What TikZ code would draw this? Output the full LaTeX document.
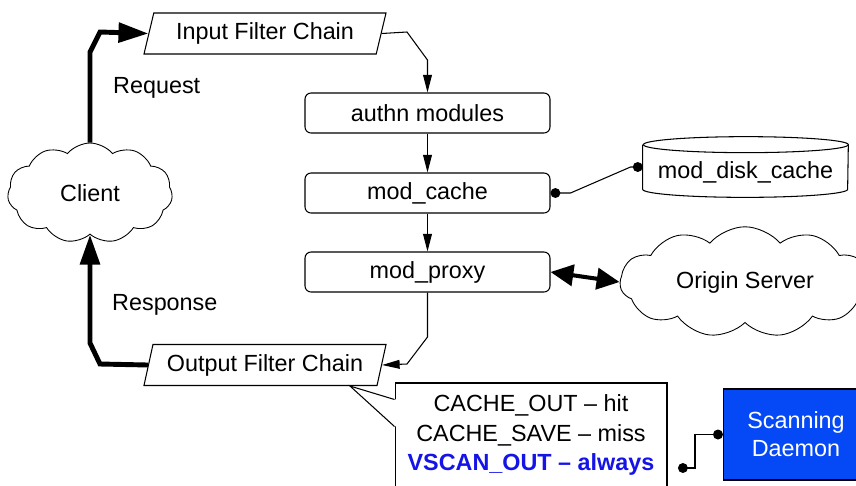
\documentclass[tikz,border=0pt]{standalone}
\usepackage{fontspec}
\setmainfont{Liberation Sans}
\usepackage{tikz}
\usetikzlibrary{shapes,shapes.geometric,shapes.symbols,arrows.meta,positioning}
\definecolor{scanblue}{RGB}{5,72,245}
\definecolor{vscanblue}{RGB}{20,20,232}

\tikzset{
  every node/.style={font=\fontsize{13.3}{16}\selectfont},
  modbox/.style={draw, line width=0.6pt, rounded corners=0.12cm, fill=white,
    minimum width=4.9cm, minimum height=0.8cm},
  chain/.style={draw, line width=0.6pt, fill=white, trapezium, trapezium left angle=76,
    trapezium right angle=104, trapezium stretches=true,
    minimum width=4.85cm, minimum height=0.82cm},
  puff/.style={draw, line width=0.5pt, fill=white, cloud, cloud puffs=11, cloud puff arc=100},
  flowarrow/.style={line width=0.6pt, -{Triangle[length=10pt,width=5pt]}},
  bigarrow/.style={line width=2.8pt, -{Triangle[length=17pt,width=11pt]}},
  dotline/.style={line width=0.6pt, {Circle[length=5.6pt]}-{Circle[length=5.6pt]}}
}

\begin{document}
\begin{tikzpicture}[x=0.02cm,y=-0.02cm]
\useasboundingbox (0,0) rectangle (856,485);

\node [chain] (ifc) at (265,33.5) {Input Filter Chain};
\node [chain] (ofc) at (265,365) {Output Filter Chain};
\node [modbox] (auth) at (427.5,113) {authn modules};
\node [modbox] (cache) at (427.5,193) {mod\_cache};
\node [modbox] (proxy) at (427.5,272) {mod\_proxy};
\node [puff, aspect=1.7, minimum width=3.3cm, minimum height=2cm] (client) at (90,193) {Client};
\node [puff, aspect=2.45, minimum width=5cm, minimum height=2.1cm] (origin) at (745,282) {Origin Server};

% disk cache drum
\node [minimum width=4.1cm, minimum height=1.2cm] (disk) at (745.5,167) {};
\draw [line width=0.6pt, fill=white] ([yshift=-0.16cm]disk.north west) -- ([yshift=0.16cm]disk.south west)
  arc [start angle=180, end angle=360, x radius=2.05cm, y radius=0.16cm]
  -- ([yshift=-0.16cm]disk.north east)
  arc [start angle=0, end angle=180, x radius=2.05cm, y radius=0.16cm];
\draw [line width=0.6pt] ([yshift=-0.16cm]disk.north east)
  arc [start angle=360, end angle=180, x radius=2.05cm, y radius=0.16cm];
\node (disktext) at (745.5,172) {mod\_disk\_cache};

\node [anchor=west] (req) at (107,88) {Request};
\node [anchor=west] (resp) at (106,305) {Response};

% request / response paths
\draw [bigarrow] (client.north) -- (90,52) -- (100,32) -- (ifc.west);
\draw [bigarrow] (ofc.west) -- (100,364) -- (90,343) -- (client.south);

\draw [flowarrow] (ifc.east) -- (407,32) -- (427.5,60) -- (auth.north);
\draw [flowarrow] (auth) -- (cache);
\draw [flowarrow] (cache) -- (proxy);
\draw [flowarrow] (proxy.south) -- (427.5,337) -- (407,364) -- (ofc.east);

\draw [line width=2.3pt, {Triangle[length=13pt,width=12pt]}-{Triangle[length=13pt,width=12pt]}] (proxy.east) -- (origin.west);
\draw [dotline] (cache.east) -- ++(20,0) -- ++(60,-26) -- (disk.west);

% filter note
\node [draw, line width=0.6pt, fill=white, minimum width=5.44cm, minimum height=2.6cm] (note) at (531,448) {};
\coordinate (tip) at ([xshift=1.7cm]ofc.south);
\path (note.north west) ++(0,17) coordinate (pa) ++(0,27) coordinate (pb);
\fill [white] (pa) -- (tip) -- (pb) -- ++(2,0) -- ([xshift=0.04cm]pa) -- cycle;
\draw [line width=0.6pt] (pa) -- (tip) -- (pb);
\node [align=center] (notetext) at (531,435) {CACHE\_OUT \textendash{} hit\\[1pt]
  CACHE\_SAVE \textendash{} miss\\[1pt]
  \textcolor{vscanblue}{\bfseries VSCAN\_OUT \textendash{} always}};

\node [draw, line width=0.6pt, fill=scanblue, text=white, align=center,
  minimum width=2.9cm, minimum height=1.82cm] (scan) at (796,434.5) {Scanning\\Daemon};
\coordinate (vscan) at (678,468);
\draw [line width=0.6pt, -{Circle[length=5.6pt]}] (scan.west) -- ++(-28,0) |- (vscan);
\fill (scan.west) ++(-5,0) circle [radius=0.1cm];

\end{tikzpicture}
\end{document}
